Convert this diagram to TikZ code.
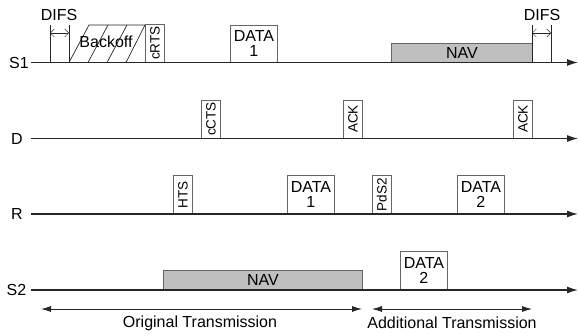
\documentclass[tikz,border=0pt]{standalone}
\usepackage{fontspec}
\setmainfont{Liberation Sans}
\usepackage{graphicx}
\usetikzlibrary{arrows.meta}
\begin{document}
\begin{tikzpicture}[x=1pt,y=-1pt]
    % Define styles for frames and lines
    \tikzstyle{timeline} = [draw=black!85, line width=1.3pt, -{Latex[length=11pt,width=7pt]}]
    \tikzstyle{frame} = [draw=black!60, line width=0.8pt, fill=white, inner sep=0pt, anchor=south west, align=center, font=\fontsize{16}{14.5}\selectfont]
    \tikzstyle{slim} = [frame, minimum width=19pt, minimum height=38pt, font=\fontsize{13.5}{14}\selectfont]
    \tikzstyle{datafr} = [frame, minimum width=47pt, minimum height=37pt]
    \tikzstyle{nav} = [frame, fill=black!25, minimum height=19pt]
    \tikzstyle{lbl} = [font=\fontsize{16}{17}\selectfont, inner sep=0pt]
    \tikzstyle{tick} = [draw=black!85, line width=0.7pt]
    \tikzstyle{span} = [draw=black!85, line width=0.9pt, {Latex[length=10pt,width=6pt]}-{Latex[length=10pt,width=6pt]}]
    \tikzstyle{gap} = [draw=black!85, line width=0.5pt, {Straight Barb[length=4pt]}-{Straight Barb[length=4pt]}]

    \useasboundingbox (0,0) rectangle (578,336);

    % Frames on S1
    \draw[tick] (69,62.5) -- (89,25) -- (145,25);
    \foreach \k in {1,2,3} {
        \draw[tick] (69+19*\k,62.5) -- ({min(89+19*\k,145)},25);
      }
    \node[lbl] (backoff) at (106,42) {Backoff};
    \node[slim] (crts) at (145,62.5) {\rotatebox{90}{cRTS}};
    \node[datafr] (dataA) at (230,62.5) {DATA\\1};
    \node[nav, minimum width=141pt] (navA) at (391,62.5) {NAV};

    % Frames on D
    \node[slim] (ccts) at (201,138.5) {\rotatebox{90}{cCTS}};
    \node[slim] (ackA) at (343,138.5) {\rotatebox{90}{ACK}};
    \node[slim] (ackB) at (513,138.5) {\rotatebox{90}{ACK}};

    % Frames on R
    \node[slim] (hts) at (173,214) {\rotatebox{90}{HTS}};
    \node[datafr, minimum height=38pt] (dataR) at (287,214) {DATA\\1};
    \node[slim] (pds) at (372,214) {\rotatebox{90}{PdS2}};
    \node[datafr, minimum height=38pt] (dataRB) at (457,214) {DATA\\2};

    % Frames on S2
    \node[nav, minimum width=199pt] (navB) at (163,290) {NAV};
    \node[datafr, minimum height=38pt] (dataB) at (400,290) {DATA\\2};

    % Time lines of the stations
    \foreach \st/\y/\lx in {S1/62.5/19,D/138.5/17,R/214/17,S2/290/16.5} {
        \node[lbl] (\st) at (\lx,\y) {\st};
        \coordinate (\st-a) at (31,\y);
        \coordinate (\st-b) at (578,\y);
        \draw[timeline] (\st-a) -- (\st-b);
      }

    % DIFS gaps
    \foreach \xa/\xb/\n/\lx in {50/69/A/59,532/551/B/542} {
        \draw[tick] (\xa,62.5) -- (\xa,25);
        \draw[tick] (\xb,62.5) -- (\xb,25);
        \coordinate (difs\n-l) at (\xa,33);
        \coordinate (difs\n-r) at (\xb,33);
        \draw[gap] (difs\n-l) -- (difs\n-r);
        \node[lbl] (difs\n) at (\lx,15) {DIFS};
      }

    % Transmission spans
    \coordinate (orig-l) at (41,309);
    \coordinate (orig-r) at (362,309);
    \coordinate (add-l) at (372,309);
    \coordinate (add-r) at (532,309);
    \draw[span] (orig-l) -- (orig-r);
    \draw[span] (add-l) -- (add-r);
    \node[lbl] (orig) at (200,323) {Original Transmission};
    \node[lbl] (add) at (452,323) {Additional Transmission};
  \end{tikzpicture}
\end{document}
